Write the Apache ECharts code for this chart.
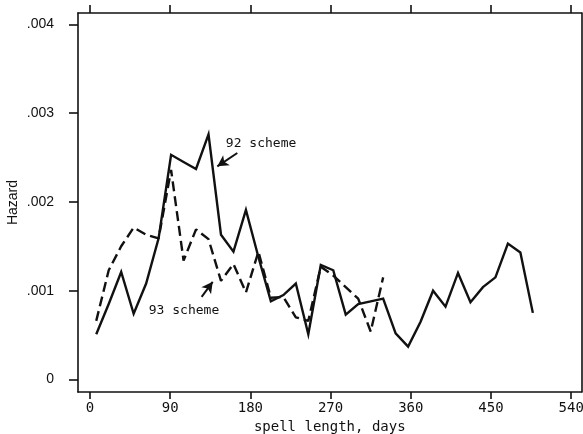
<!DOCTYPE html>
<html>
<head>
<meta charset="utf-8">
<script src="https://cdn.jsdelivr.net/npm/echarts@6/dist/echarts.min.js"></script>
<style>
html,body{margin:0;padding:0;background:#fff;}
#chart{width:583px;height:434px;}
</style>
</head>
<body>
<div id="chart"></div>
<script>
// spell length (days) at which each hazard is plotted
var days92 = [7,21,35,49,63,77,91,105,119,133,147,161,175,189,203,217,231,245,259,273,287,301,315,329,343,357,371,385,399,413,427,441,455,469,483,497];
var hazard92 = [0.00051,0.00085,0.00121,0.00074,0.00108,0.00159,0.00253,0.00245,0.00237,0.00276,
                0.00163,0.00144,0.00191,0.00138,0.00088,0.00095,0.00108,0.00051,0.00129,0.00123,
                0.00073,0.00085,0.00088,0.00091,0.00052,0.00037,0.00065,0.00100,0.00082,0.00120,
                0.00087,0.00104,0.00115,0.00153,0.00143,0.00075];
var days93 = [7,21,35,49,63,77,91,105,119,133,147,161,175,189,203,217,231,245,259,273,287,301,315,329];
var hazard93 = [0.00066,0.00123,0.00150,0.00171,0.00163,0.00159,0.00236,0.00134,0.00169,0.00158,
                0.00111,0.00130,0.00098,0.00144,0.00092,0.00093,0.00070,0.00066,0.00127,0.00117,
                0.00104,0.00091,0.00054,0.00115];
var xTicks = [0,90,180,270,360,450,540];
var yTicks = [0,0.001,0.002,0.003,0.004];
var yTickLabels = ['0','.001','.002','.003','.004'];
var xTitle = 'spell length, days';
var yTitle = 'Hazard';
// annotations: label text, label anchor, arrow tail, arrow tip (data units)
var label92 = '92 scheme', label92At = [192, 0.00266], arrow92 = [[165.3, 0.00255], [142.9, 0.00240]];
var label93 = '93 scheme', label93At = [105.5, 0.00077], arrow93 = [[125.3, 0.00093], [137.7, 0.00110]];

function zip(a, b) { return a.map(function (v, i) { return [v, b[i]]; }); }

var INK = '#111';
var MONO = '"DejaVu Sans Mono", "Liberation Mono", monospace';
var SANS = '"Liberation Sans", Arial, sans-serif';
var XMIN = -13.47, XMAX = 551.6, YMIN = -0.000141, YMAX = 0.004127;

var chart = echarts.init(document.getElementById('chart'), null, {renderer: 'canvas'});
chart.setOption({
  animation: false,
  backgroundColor: '#fff',
  grid: {left: 78, right: 1.5, top: 13, bottom: 42, containLabel: false, outerBoundsMode: 'none'},
  xAxis: [{
    type: 'value', position: 'bottom', min: XMIN, max: XMAX,
    splitLine: {show: false},
    axisLine: {show: true, onZero: false, lineStyle: {color: INK, width: 1.6}},
    axisTick: {show: true, length: 7, customValues: xTicks, lineStyle: {color: INK, width: 1.6}},
    axisLabel: {show: true, customValues: xTicks, margin: 9, color: INK, fontFamily: MONO, fontSize: 14},
    name: xTitle, nameLocation: 'middle', nameGap: 21,
    nameTextStyle: {color: INK, fontFamily: MONO, fontSize: 14}
  }, {
    type: 'value', position: 'top', min: XMIN, max: XMAX,
    splitLine: {show: false},
    axisLine: {show: true, onZero: false, lineStyle: {color: INK, width: 1.6}},
    axisTick: {show: true, length: 8, customValues: xTicks, lineStyle: {color: INK, width: 1.6}},
    axisLabel: {show: false}
  }],
  yAxis: [{
    type: 'value', position: 'left', min: YMIN, max: YMAX,
    splitLine: {show: false},
    axisLine: {show: true, onZero: false, lineStyle: {color: INK, width: 1.6}},
    axisTick: {show: true, length: 9, customValues: yTicks, lineStyle: {color: INK, width: 1.6}},
    axisLabel: {show: true, customValues: yTicks, margin: 24, color: INK, fontFamily: SANS, fontSize: 14,
      formatter: function (v) {
        var i = yTicks.findIndex(function (t) { return Math.abs(t - v) < 1e-9; });
        return i >= 0 ? yTickLabels[i] : '';
      }},
    name: yTitle, nameLocation: 'middle', nameGap: 58, nameRotate: 90, nameMoveOverlap: false,
    nameTextStyle: {color: INK, fontFamily: SANS, fontSize: 14}
  }, {
    type: 'value', position: 'right', min: YMIN, max: YMAX,
    splitLine: {show: false},
    axisLine: {show: true, onZero: false, lineStyle: {color: INK, width: 1.6}},
    axisTick: {show: false}, axisLabel: {show: false}
  }],
  series: [{
    name: label92, type: 'line', data: zip(days92, hazard92),
    showSymbol: false, symbol: 'none', silent: true,
    lineStyle: {color: INK, width: 2.4, join: 'miter'},
    z: 3,
    markLine: {
      silent: true, symbol: ['none', 'arrow'], symbolSize: [9, 11],
      label: {show: false},
      lineStyle: {color: INK, width: 2, type: 'solid'},
      data: [[{coord: arrow92[0]}, {coord: arrow92[1]}], [{coord: arrow93[0]}, {coord: arrow93[1]}]]
    },
    markPoint: {
      silent: true, symbol: 'circle', symbolSize: 0,
      label: {show: true, position: 'inside', color: INK, fontFamily: MONO, fontSize: 13},
      data: [
        {coord: label92At, value: label92, label: {formatter: label92}},
        {coord: label93At, value: label93, label: {formatter: label93}}
      ]
    }
  }, {
    name: label93, type: 'line', data: zip(days93, hazard93),
    showSymbol: false, symbol: 'none', silent: true,
    lineStyle: {color: INK, width: 2.4, type: [10, 5]},
    z: 2
  }]
});
</script>
</body>
</html>
